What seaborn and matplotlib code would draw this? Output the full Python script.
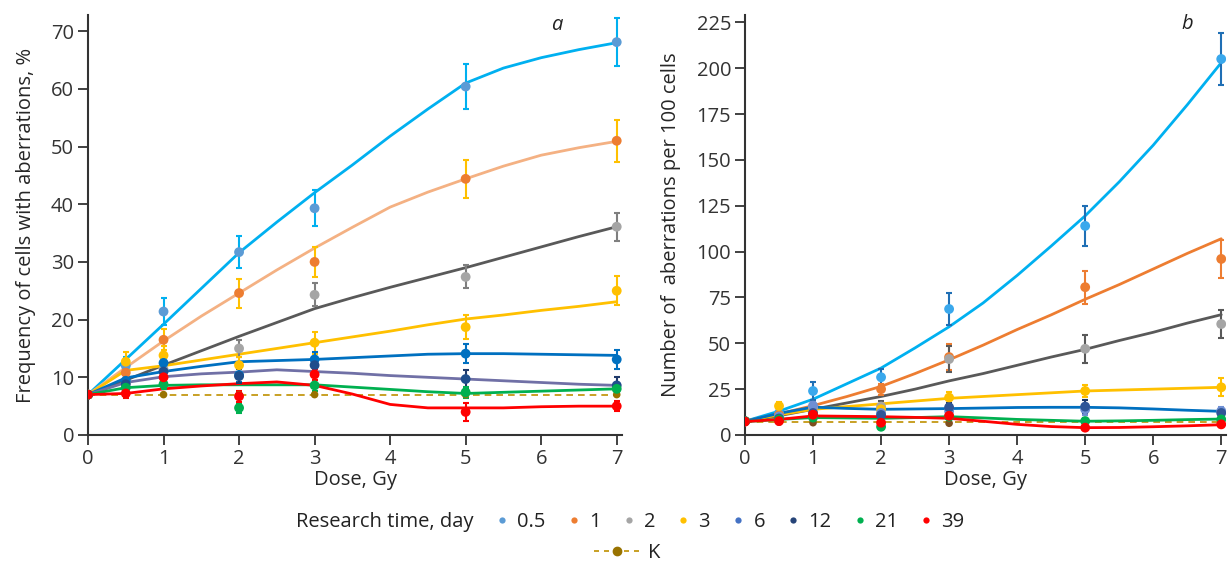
import numpy as np
import pandas as pd
import matplotlib
matplotlib.use("Agg")
import matplotlib.pyplot as plt
from matplotlib.lines import Line2D
import seaborn as sns

# ---------------- data ----------------
doses = [0, 0.5, 1, 2, 3, 5, 7]
groups = ["0.5", "1", "2", "3", "6", "12", "21", "39"]

# panel a: frequency of cells with aberrations, %
a_pts = {
    "0.5": [7.0, 12.0, 21.4, 31.7, 39.3, 60.4, 68.1],
    "1":   [7.0, 10.8, 16.5, 24.6, 30.0, 44.4, 51.0],
    "2":   [7.0, 9.0, 11.4, 15.0, 24.3, 27.4, 36.1],
    "3":   [7.0, 12.7, 13.8, 12.1, 16.0, 18.7, 25.0],
    "6":   [7.0, 9.4, 12.5, 10.4, 13.1, 14.1, 13.1],
    "12":  [7.0, 8.8, 11.0, 10.2, 12.1, 9.7, 8.6],
    "21":  [7.0, 8.2, 8.8, 4.7, 8.6, 7.4, 8.0],
    "39":  [7.0, 7.2, 10.0, 6.7, 10.5, 4.0, 5.0],
}
a_err = {
    "0.5": [0, 1.5, 2.3, 2.8, 3.1, 3.9, 4.1],
    "1":   [0, 1.2, 1.8, 2.5, 2.6, 3.3, 3.6],
    "2":   [0, 0.8, 1.2, 1.5, 2.0, 2.0, 2.4],
    "3":   [0, 1.7, 1.6, 1.4, 1.9, 2.1, 2.5],
    "6":   [0, 0.8, 1.2, 1.2, 1.3, 1.7, 1.6],
    "12":  [0, 0.8, 1.0, 1.2, 1.3, 1.6, 1.4],
    "21":  [0, 0.6, 0.8, 0.8, 0.9, 1.0, 0.8],
    "39":  [0, 0.7, 0.9, 1.0, 1.0, 1.5, 0.9],
}
a_K = [7.0, 7.0, 7.0, 7.0, 7.0, 7.0, 7.0]

# fitted curves
curve_x = [0, 0.5, 1, 1.5, 2, 2.5, 3, 3.5, 4, 4.5, 5, 5.5, 6, 6.5, 7]
a_fit = {
    "0.5": [7, 13.1, 19.2, 25.4, 31.6, 36.9, 42.0, 46.8, 51.8, 56.5, 61.0, 63.6, 65.4, 66.8, 68.0],
    "1":   [7, 11.7, 16.3, 20.6, 24.6, 28.6, 32.4, 36.0, 39.5, 42.1, 44.4, 46.6, 48.5, 49.8, 50.9],
    "2":   [7, 9.5, 12.1, 14.6, 17.1, 19.5, 21.9, 23.8, 25.6, 27.3, 29.0, 30.8, 32.6, 34.4, 36.1],
    "3":   [7, 11.2, 12.0, 13.0, 14.0, 15.0, 16.0, 17.0, 18.0, 19.1, 20.1, 20.8, 21.6, 22.3, 23.1],
    "6":   [7, 9.9, 11.0, 11.9, 12.7, 12.9, 13.1, 13.4, 13.7, 14.0, 14.1, 14.1, 14.0, 13.9, 13.8],
    "12":  [7, 9.1, 10.1, 10.6, 10.9, 11.3, 11.0, 10.7, 10.3, 10.0, 9.7, 9.4, 9.1, 8.8, 8.6],
    "21":  [7, 8.2, 8.6, 8.7, 8.7, 8.7, 8.7, 8.3, 7.9, 7.5, 7.2, 7.4, 7.6, 7.8, 8.0],
    "39":  [7, 7.2, 8.0, 8.5, 8.9, 9.2, 8.6, 7.1, 5.3, 4.7, 4.7, 4.7, 4.9, 5.0, 5.0],
}

# panel b: number of aberrations per 100 cells
b_pts = {
    "0.5": [7.5, 12.0, 24.0, 31.5, 68.7, 114.0, 205.0],
    "1":   [7.5, 11.0, 15.0, 25.0, 42.5, 80.6, 96.0],
    "2":   [7.5, 10.0, 15.0, 15.5, 41.4, 47.0, 60.5],
    "3":   [7.5, 15.8, 12.0, 14.0, 20.4, 24.0, 26.0],
    "6":   [7.5, 10.0, 16.0, 12.0, 13.0, 14.0, 13.1],
    "12":  [7.5, 9.0, 12.0, 10.9, 15.1, 15.5, 12.0],
    "21":  [7.5, 8.5, 9.5, 4.5, 10.0, 7.6, 8.5],
    "39":  [7.3, 7.6, 11.1, 6.7, 10.5, 4.0, 5.8],
}
b_err = {
    "0.5": [0, 2.0, 5.0, 4.5, 8.5, 11.0, 14.0],
    "1":   [0, 2.0, 3.0, 3.0, 7.0, 9.0, 10.5],
    "2":   [0, 2.0, 2.5, 3.0, 7.0, 7.5, 7.5],
    "3":   [0, 2.0, 2.0, 2.0, 3.0, 3.5, 5.0],
    "6":   [0, 2.0, 2.0, 2.0, 2.0, 3.0, 2.0],
    "12":  [0, 2.0, 2.0, 2.0, 2.5, 3.5, 2.0],
    "21":  [0, 1.5, 1.5, 1.5, 1.5, 1.5, 1.5],
    "39":  [0, 1.5, 1.5, 1.5, 1.5, 1.5, 1.5],
}
b_K = [7.2, 7.0, 6.7, 7.0, 6.4, 7.2, 7.2]
b_fit = {
    "0.5": [7.5, 13, 19.5, 28, 36.5, 47.5, 59, 72, 87, 103, 119.5, 138, 158, 180, 203],
    "1":   [7.5, 11.5, 16, 21, 26.5, 33.5, 41, 49, 57.5, 65.5, 74, 82, 90.5, 99, 107],
    "2":   [7.5, 10.5, 14, 17.5, 21, 25, 29.5, 33.5, 38, 42.5, 46.7, 51.5, 56, 61, 65.6],
    "3":   [7.5, 11, 14, 15.5, 17, 18.5, 20, 21, 22, 23, 24, 24.5, 25, 25.5, 26],
    "6":   [7.5, 11.8, 15.2, 14.5, 14, 14.2, 14.4, 14.7, 15, 15.1, 15.1, 14.8, 14.2, 13.5, 12.9],
    "21":  [7.3, 8.5, 9.5, 9.3, 9.1, 9.5, 10, 9.3, 8.5, 8, 7.5, 7.7, 8, 8.4, 8.7],
    "39":  [7.3, 8.5, 10.4, 10.2, 10, 9.6, 9.1, 7.5, 5.8, 4.6, 4.0, 4.1, 4.5, 5.0, 5.6],
}
K_level_a = 7.0
K_level_b = 7.2

# ---------------- styles ----------------
a_line_col = {"0.5": "#00B0F0", "1": "#F4B183", "2": "#595959", "3": "#FFC000",
              "6": "#0070C0", "12": "#7070A6", "21": "#00B050", "39": "#FF0000"}
a_pt_col = {"0.5": "#5B9BD5", "1": "#ED7D31", "2": "#A5A5A5", "3": "#FFC000",
            "6": "#0070C0", "12": "#1F4E8C", "21": "#00B050", "39": "#FF0000"}
a_err_col = {"0.5": "#00B0F0", "1": "#FFC000", "2": "#7F7F7F", "3": "#FFC000",
             "6": "#0070C0", "12": "#1F3A6B", "21": "#00B050", "39": "#FF0000"}
b_line_col = {"0.5": "#00B0F0", "1": "#ED7D31", "2": "#595959", "3": "#FFC000",
              "6": "#0070C0", "21": "#00B050", "39": "#FF0000"}
b_pt_col = {"0.5": "#3AA8EC", "1": "#ED7D31", "2": "#A5A5A5", "3": "#FFC000",
            "6": "#6F8FD3", "12": "#2F5597", "21": "#00B050", "39": "#FF0000"}
b_err_col = {"0.5": "#1F6FB5", "1": "#ED7D31", "2": "#595959", "3": "#FFC000",
             "6": "#6F8FD3", "12": "#1F3A6B", "21": "#00B050", "39": "#FF0000"}
leg_col = {"0.5": "#5B9BD5", "1": "#ED7D31", "2": "#A5A5A5", "3": "#FFC000",
           "6": "#4472C4", "12": "#264478", "21": "#00B050", "39": "#FF0000"}
K_line_col = "#BF9000"
K_pt_col_a = "#997300"
K_pt_col_b = "#7F4F1F"

sns.set_theme(style="ticks")
plt.rcParams["font.family"] = ["Open Sans", "DejaVu Sans"]
plt.rcParams["axes.edgecolor"] = "#333333"
plt.rcParams["xtick.color"] = "#333333"
plt.rcParams["ytick.color"] = "#333333"
plt.rcParams["text.color"] = "#222222"

FS = 14.5
LFS = 14.5
fig = plt.figure(figsize=(12.29, 5.63), dpi=100)
axa = fig.add_axes([88 / 1229, 1 - 435 / 563, 534 / 1229, 420 / 563])
axb = fig.add_axes([745 / 1229, 1 - 435 / 563, 481 / 1229, 420 / 563])


def draw_panel(ax, pts, err, fit, K_pts, K_level, line_col, pt_col, err_col, K_pt_col, ms_area):
    ax.plot([0, 7], [K_level, K_level], ls=(0, (4, 3)), color=K_line_col, lw=1.2, zorder=1)
    for g, ys in fit.items():
        sns.lineplot(x=curve_x, y=ys, ax=ax, color=line_col[g], lw=2.0,
                     sort=False, estimator=None, zorder=2)
    for g in groups:
        df = pd.DataFrame({"dose": doses, "val": pts[g], "err": err[g]})
        ax.errorbar(df["dose"], df["val"], yerr=df["err"], fmt="none",
                    ecolor=err_col[g], elinewidth=1.5, capsize=2.5, capthick=1.5, zorder=3)
        sns.scatterplot(data=df, x="dose", y="val", ax=ax, color=pt_col[g], s=ms_area,
                        edgecolor="none", zorder=4, legend=False)
    sns.scatterplot(x=doses, y=K_pts, ax=ax, color=K_pt_col, s=30, edgecolor="none",
                    zorder=3.5, legend=False)


draw_panel(axa, a_pts, a_err, a_fit, a_K, K_level_a, a_line_col, a_pt_col, a_err_col, K_pt_col_a, 50)
draw_panel(axb, b_pts, b_err, b_fit, b_K, K_level_b, b_line_col, b_pt_col, b_err_col, K_pt_col_b, 50)

for ax in (axa, axb):
    ax.set_xlim(0, 7.07)
    ax.set_xticks(range(0, 8))
    ax.set_xlabel("Dose, Gy", fontsize=FS, labelpad=1)
    sns.despine(ax=ax)
    ax.tick_params(axis="both", direction="out", length=7, width=1.3, labelsize=FS, pad=3)
    for s in ("left", "bottom"):
        ax.spines[s].set_linewidth(1.5)

axa.set_ylim(0, 72.8)
axa.set_yticks(range(0, 71, 10))
axa.set_ylabel("Frequency of cells with aberrations, %", fontsize=FS, labelpad=11)
axb.set_ylim(0, 229)
axb.set_yticks(range(0, 226, 25))
axb.set_ylabel("Number of  aberrations per 100 cells", fontsize=FS, labelpad=11)

axa.text(6.2, 71.0, "a", fontsize=FS, style="italic", ha="center", va="center")
axb.text(6.5, 224.0, "b", fontsize=FS, style="italic", ha="center", va="center")

# legend
fig.text(473 / 1229, 1 - 522 / 563, "Research time, day", fontsize=LFS, ha="right", va="center")
handles = [Line2D([], [], ls="none", marker="o", ms=4.5, color=leg_col[g], mec="none") for g in groups]
fig.legend(handles, groups, loc="center left", bbox_to_anchor=(494 / 1229, 1 - 522 / 563),
           ncol=8, frameon=False, fontsize=LFS, handlelength=0.8, handletextpad=0.35,
           columnspacing=1.0, borderpad=0, borderaxespad=0)
kh = Line2D([], [], ls=(0, (3, 3)), lw=1.2, color=K_line_col, marker="o", ms=6,
            mfc=K_pt_col_a, mec=K_pt_col_a)
fig.legend([kh], ["K"], loc="center left", bbox_to_anchor=(594 / 1229, 1 - 553 / 563),
           frameon=False, fontsize=LFS, handlelength=2.3, handletextpad=0.4,
           borderpad=0, borderaxespad=0)

fig.savefig("out.png", dpi=100)
